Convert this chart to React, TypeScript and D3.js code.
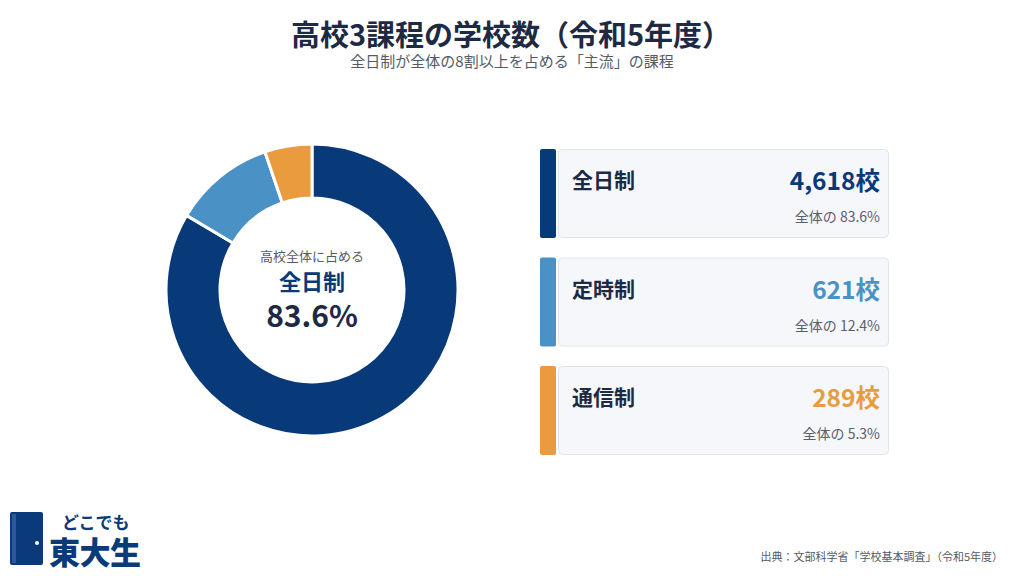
import React from "react";
import * as d3 from "d3";

const categories = ["全日制", "定時制", "通信制"];
const schoolCounts = [4618, 621, 289];
const shareLabels = ["83.6%", "12.4%", "5.3%"];
const colors = ["#083a7a", "#4a92c6", "#e99b3d"];

const W = 1024;
const H = 576;
const FONT = "'Noto Sans CJK JP', 'Noto Sans', sans-serif";

export default function App() {
  const cx = 312, cy = 290, rOuter = 146, rInner = 92;
  const pie = d3.pie<number>().sort(null).value((d) => d)(schoolCounts);
  const arc = d3.arc<d3.PieArcDatum<number>>().innerRadius(rInner).outerRadius(rOuter);
  const fmt = d3.format(",");

  const cardX = 540, cardW = 349, cardH = 89, cardY0 = 149, cardGap = 108.5;

  return (
    <svg width={W} height={H} style={{ position: "absolute", left: 0, top: 0, background: "#fff" }} fontFamily={FONT}>
      <rect width={W} height={H} fill="#fff" />
      <text x={511} y={46} textAnchor="middle" fontSize={29} fontWeight={700} fill="#1e2a44">
        高校3課程の学校数（令和5年度）
      </text>
      <text x={512} y={67} textAnchor="middle" fontSize={15} fill="#555b66">
        全日制が全体の8割以上を占める「主流」の課程
      </text>

      <g transform={`translate(${cx},${cy})`}>
        {pie.map((d, i) => (
          <path key={i} d={arc(d) || ""} fill={colors[i]} stroke="#fff" strokeWidth={3} />
        ))}
        <text y={-29} textAnchor="middle" fontSize={13} fill="#555b66">高校全体に占める</text>
        <text y={0} textAnchor="middle" fontSize={22} fontWeight={700} fill={colors[0]}>{categories[0]}</text>
        <text y={37} textAnchor="middle" fontSize={30} fontWeight={600} fill="#1e2a44">{shareLabels[0]}</text>
      </g>

      {categories.map((c, i) => {
        const y = cardY0 + i * cardGap;
        return (
          <g key={c}>
            <rect x={cardX} y={y} width={16} height={cardH} rx={2} fill={colors[i]} />
            <rect x={cardX + 18.5} y={y + 0.5} width={cardW - 19} height={cardH - 1} rx={4} fill="#f5f7fb" stroke="#dfe4ec" />
            <text x={572} y={y + 39} fontSize={21} fontWeight={700} fill="#1e2a44">{c}</text>
            <text x={880} y={y + 41} textAnchor="end" fontSize={24.5} fontWeight={700} fill={colors[i]}>{fmt(schoolCounts[i])}校</text>
            <text x={880} y={y + 73} textAnchor="end" fontSize={14} fill="#5a606b">全体の {shareLabels[i]}</text>
          </g>
        );
      })}

      <g>
        <rect x={10} y={512} width={33} height={53} rx={2} fill="#0b3a7a" />
        <rect x={12} y={514} width={4} height={49} fill="#2a5a9a" />
        <circle cx={37} cy={543} r={2} fill="#fff" />
        <text x={62} y={529} fontSize={17} fontWeight={700} fill="#0b3a7a">どこでも</text>
        <text x={49} y={564} fontSize={31} fontWeight={900} fill="#0b3a7a" letterSpacing={-0.5}>東大生</text>
      </g>

      <text x={1003} y={561} textAnchor="end" fontSize={11} fill="#555b66">
        出典：文部科学省「学校基本調査」（令和5年度）
      </text>
    </svg>
  );
}
